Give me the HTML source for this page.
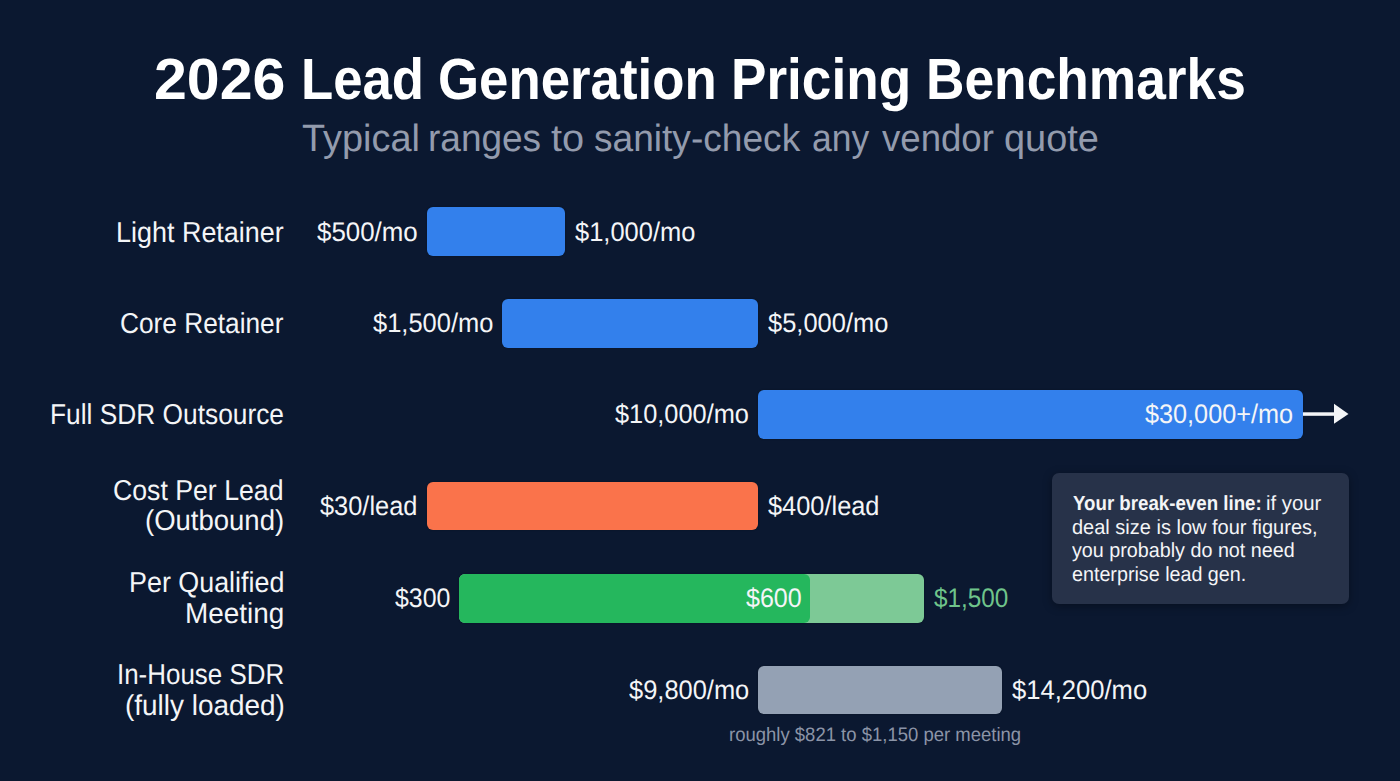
<!DOCTYPE html>
<html><head><meta charset="utf-8"><style>
html,body{margin:0;padding:0;width:1400px;height:781px;overflow:hidden}
body{background:#0b1830;position:relative;font-family:"Liberation Sans",sans-serif}
.t{position:absolute;white-space:nowrap;transform-origin:0 0;text-rendering:geometricPrecision}
.b{position:absolute;border-radius:6px;box-shadow:0 0 2px rgba(0,0,0,0.3)}
.callout{position:absolute;left:1052px;top:473px;width:297px;height:131px;background:#273249;border-radius:7px;box-shadow:0 2px 10px rgba(0,0,0,0.35)}
.ct{position:absolute;left:1072px;font-size:18px;line-height:18px;color:#eef0f3;white-space:nowrap;transform-origin:0 0}
</style></head><body>
<div class="b" style="left:427px;top:207px;width:138.0px;height:49.0px;background:#3380ec"></div>
<div class="b" style="left:502px;top:298.5px;width:256.0px;height:49.2px;background:#3380ec"></div>
<div class="b" style="left:758px;top:389.5px;width:545.0px;height:49.0px;background:#3380ec"></div>
<div class="b" style="left:427px;top:481.5px;width:331.0px;height:48.8px;background:#fa734b"></div>
<div class="b" style="left:459.4px;top:573.6px;width:464.6px;height:49.1px;background:#7dc996"></div>
<div class="b" style="left:459.4px;top:573.6px;width:350.6px;height:49.1px;background:#25b75d;box-shadow:none"></div>
<div class="b" style="left:758.3px;top:665.6px;width:244.2px;height:48.8px;background:#94a1b4"></div>
<svg style="position:absolute;left:0;top:0" width="1400" height="781"><rect x="1303" y="412.3" width="32" height="3.5" fill="#f4f5f7"/><polygon points="1334,403.8 1348.5,414 1334,423.8" fill="#f4f5f7"/></svg>
<div class="callout"></div>

<div class="t" style="left:153.7px;top:51.2px;font-size:58px;line-height:58px;font-weight:bold;color:#ffffff;transform-origin:0 48px;transform:scaleX(1.0185)">2026</div>
<div class="t" style="left:300.8px;top:51.2px;font-size:58px;line-height:58px;font-weight:bold;color:#ffffff;transform-origin:0 48px;transform:scaleX(0.9089)">Lead</div>
<div class="t" style="left:438.2px;top:51.2px;font-size:58px;line-height:58px;font-weight:bold;color:#ffffff;transform-origin:0 48px;transform:scaleX(0.9104)">Generation</div>
<div class="t" style="left:731.3px;top:51.2px;font-size:58px;line-height:58px;font-weight:bold;color:#ffffff;transform-origin:0 48px;transform:scaleX(0.9160)">Pricing</div>
<div class="t" style="left:925.8px;top:51.2px;font-size:58px;line-height:58px;font-weight:bold;color:#ffffff;transform-origin:0 48px;transform:scaleX(0.9186)">Benchmarks</div>
<div class="t" style="left:301.9px;top:120.0px;font-size:38px;line-height:38px;font-weight:normal;color:#939bad;transform-origin:0 31px;transform:scaleX(0.9972)">Typical</div>
<div class="t" style="left:428.1px;top:120.0px;font-size:38px;line-height:38px;font-weight:normal;color:#939bad;transform-origin:0 31px;transform:scaleX(0.9736)">ranges</div>
<div class="t" style="left:550.9px;top:120.0px;font-size:38px;line-height:38px;font-weight:normal;color:#939bad;transform-origin:0 31px;transform:scaleX(1.0472)">to</div>
<div class="t" style="left:594.1px;top:120.0px;font-size:38px;line-height:38px;font-weight:normal;color:#939bad;transform-origin:0 31px;transform:scaleX(0.9764)">sanity-check</div>
<div class="t" style="left:812.1px;top:120.0px;font-size:38px;line-height:38px;font-weight:normal;color:#939bad;transform-origin:0 31px;transform:scaleX(0.9325)">any</div>
<div class="t" style="left:881.8px;top:120.0px;font-size:38px;line-height:38px;font-weight:normal;color:#939bad;transform-origin:0 31px;transform:scaleX(0.9628)">vendor</div>
<div class="t" style="left:1004.1px;top:120.0px;font-size:38px;line-height:38px;font-weight:normal;color:#939bad;transform-origin:0 31px;transform:scaleX(0.9983)">quote</div>
<div class="t" style="left:115.7px;top:218.7px;font-size:28.8px;line-height:28.8px;font-weight:normal;color:#f4f5f7;transform-origin:0 23px;transform:scaleX(0.9358)">Light Retainer</div>
<div class="t" style="left:120.1px;top:310.1px;font-size:28.8px;line-height:28.8px;font-weight:normal;color:#f4f5f7;transform-origin:0 23px;transform:scaleX(0.9117)">Core Retainer</div>
<div class="t" style="left:50.3px;top:401.4px;font-size:28.8px;line-height:28.8px;font-weight:normal;color:#f4f5f7;transform-origin:0 23px;transform:scaleX(0.9137)">Full SDR Outsource</div>
<div class="t" style="left:113.4px;top:477.0px;font-size:28.8px;line-height:28.8px;font-weight:normal;color:#f4f5f7;transform-origin:0 23px;transform:scaleX(0.9260)">Cost Per Lead</div>
<div class="t" style="left:145.4px;top:507.0px;font-size:28.8px;line-height:28.8px;font-weight:normal;color:#f4f5f7;transform-origin:0 23px;transform:scaleX(0.9547)">(Outbound)</div>
<div class="t" style="left:128.5px;top:569.3px;font-size:28.8px;line-height:28.8px;font-weight:normal;color:#f4f5f7;transform-origin:0 23px;transform:scaleX(0.9336)">Per Qualified</div>
<div class="t" style="left:184.8px;top:600.1px;font-size:28.8px;line-height:28.8px;font-weight:normal;color:#f4f5f7;transform-origin:0 23px;transform:scaleX(0.9685)">Meeting</div>
<div class="t" style="left:116.6px;top:661.2px;font-size:28.8px;line-height:28.8px;font-weight:normal;color:#f4f5f7;transform-origin:0 23px;transform:scaleX(0.9002)">In-House SDR</div>
<div class="t" style="left:124.6px;top:691.7px;font-size:28.8px;line-height:28.8px;font-weight:normal;color:#f4f5f7;transform-origin:0 23px;transform:scaleX(0.9700)">(fully loaded)</div>
<div class="t" style="left:316.6px;top:218.6px;font-size:26.8px;line-height:26.8px;font-weight:normal;color:#f4f5f7;transform-origin:0 22px;transform:scaleX(0.9654)">$500/mo</div>
<div class="t" style="left:575.0px;top:218.6px;font-size:26.8px;line-height:26.8px;font-weight:normal;color:#f4f5f7;transform-origin:0 22px;transform:scaleX(0.9505)">$1,000/mo</div>
<div class="t" style="left:372.5px;top:310.0px;font-size:26.8px;line-height:26.8px;font-weight:normal;color:#f4f5f7;transform-origin:0 22px;transform:scaleX(0.9505)">$1,500/mo</div>
<div class="t" style="left:768.0px;top:310.0px;font-size:26.8px;line-height:26.8px;font-weight:normal;color:#f4f5f7;transform-origin:0 22px;transform:scaleX(0.9505)">$5,000/mo</div>
<div class="t" style="left:614.9px;top:401.3px;font-size:26.8px;line-height:26.8px;font-weight:normal;color:#f4f5f7;transform-origin:0 22px;transform:scaleX(0.9464)">$10,000/mo</div>
<div class="t" style="left:1145.4px;top:401.3px;font-size:26.8px;line-height:26.8px;font-weight:normal;color:#f4f5f7;transform-origin:0 22px;transform:scaleX(0.9419)">$30,000+/mo</div>
<div class="t" style="left:319.5px;top:493.2px;font-size:26.8px;line-height:26.8px;font-weight:normal;color:#f4f5f7;transform-origin:0 22px;transform:scaleX(0.9469)">$30/lead</div>
<div class="t" style="left:768.2px;top:493.2px;font-size:26.8px;line-height:26.8px;font-weight:normal;color:#f4f5f7;transform-origin:0 22px;transform:scaleX(0.9468)">$400/lead</div>
<div class="t" style="left:394.8px;top:585.3px;font-size:26.8px;line-height:26.8px;font-weight:normal;color:#f4f5f7;transform-origin:0 22px;transform:scaleX(0.9300)">$300</div>
<div class="t" style="left:745.5px;top:585.3px;font-size:26.8px;line-height:26.8px;font-weight:normal;color:#f4f5f7;transform-origin:0 22px;transform:scaleX(0.9351)">$600</div>
<div class="t" style="left:933.9px;top:585.3px;font-size:26.8px;line-height:26.8px;font-weight:normal;color:#6fc48b;transform-origin:0 22px;transform:scaleX(0.9068)">$1,500</div>
<div class="t" style="left:628.6px;top:676.7px;font-size:26.8px;line-height:26.8px;font-weight:normal;color:#f4f5f7;transform-origin:0 22px;transform:scaleX(0.9497)">$9,800/mo</div>
<div class="t" style="left:1012.0px;top:676.7px;font-size:26.8px;line-height:26.8px;font-weight:normal;color:#f4f5f7;transform-origin:0 22px;transform:scaleX(0.9550)">$14,200/mo</div>
<div class="t" style="left:729.1px;top:725.8px;font-size:19.5px;line-height:19.5px;font-weight:normal;color:#8b94a7;transform-origin:0 15px;transform:scaleX(0.9486)">roughly $821 to $1,150 per meeting</div>
<div class="t" style="left:1072.8px;top:493.8px;font-size:20.5px;line-height:20.5px;font-weight:bold;color:#f4f5f7;transform-origin:0 16px;transform:scaleX(0.9116)">Your break-even line:</div>
<div class="t" style="left:1266.2px;top:493.8px;font-size:20.5px;line-height:20.5px;font-weight:normal;color:#f4f5f7;transform-origin:0 16px;transform:scaleX(0.9909)">if your</div>
<div class="t" style="left:1071.8px;top:517.5px;font-size:20.5px;line-height:20.5px;font-weight:normal;color:#f4f5f7;transform-origin:0 16px;transform:scaleX(0.9752)">deal size is low four figures,</div>
<div class="t" style="left:1071.8px;top:541.4px;font-size:20.5px;line-height:20.5px;font-weight:normal;color:#f4f5f7;transform-origin:0 16px;transform:scaleX(0.9624)">you probably do not need</div>
<div class="t" style="left:1071.8px;top:565.2px;font-size:20.5px;line-height:20.5px;font-weight:normal;color:#f4f5f7;transform-origin:0 16px;transform:scaleX(0.9615)">enterprise lead gen.</div>
</body></html>
